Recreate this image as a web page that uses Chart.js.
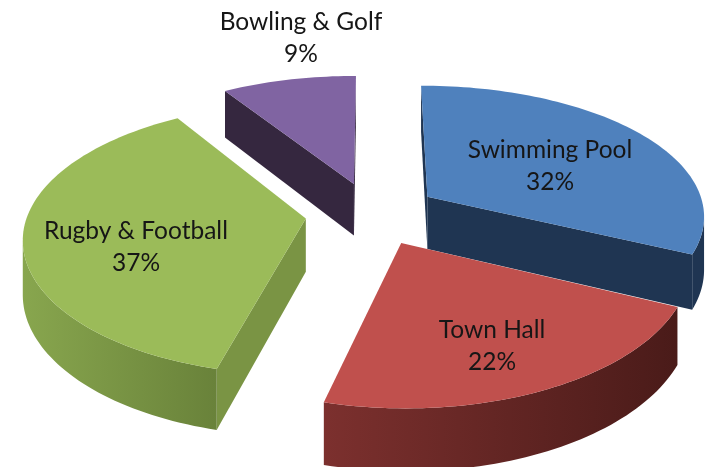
<!DOCTYPE html>
<html>
<head>
<meta charset="utf-8">
<style>html,body{margin:0;padding:0;background:#fff}canvas{display:block}</style>
<script src="https://cdn.jsdelivr.net/npm/chart.js@4"></script>
</head>
<body>
<canvas id="c" width="710" height="467"></canvas>
<script>
const categories = ['Swimming Pool', 'Town Hall', 'Rugby & Football', 'Bowling & Golf'];
const shares = [32, 22, 37, 9];
const topColors = ['#4F81BD', '#C0504D', '#9BBB59', '#8064A2'];
const faceColors = ['#1F3552', '#4E1F1C', '#7A9444', '#35273F'];
const rimLeftColors = ['#1F3552', '#7C302E', '#88A64E', '#35273F'];
const rimRightColors = ['#1F3552', '#4A1B19', '#69823A', '#35273F'];
const labelAnchors = [[550, 150], [492, 330], [136, 231], [301, 22]];

// Oblique view of the pie plane
const view = { cx: 372, cy: 213.5, radius: 278, squash: 0.475, persp: 0.13, depth: 53, foreshorten: 1.12 };
const paintOrder = [3, 0, 2, 1];

function project(wx, wy, lift) {
  const s = 1 / (1 - view.persp * wy / view.radius);
  return [view.cx + wx * s, view.cy + view.squash * wy * Math.pow(s, view.foreshorten) + lift * view.depth * s];
}
function fillPoly(ctx, pts, color) {
  ctx.beginPath();
  pts.forEach((p, i) => i ? ctx.lineTo(p[0], p[1]) : ctx.moveTo(p[0], p[1]));
  ctx.closePath();
  ctx.fillStyle = color;
  ctx.fill();
}
function facesViewer(q) {
  let a = 0;
  q.forEach((p, i) => { const n = q[(i + 1) % q.length]; a += p[0] * n[1] - n[0] * p[1]; });
  return a < 0;
}

const pie3d = {
  id: 'pie3d',
  beforeDatasetDraw() { return false; },
  afterDatasetsDraw(chart) {
    const ctx = chart.ctx;
    const arcs = chart.getDatasetMeta(0).data;
    paintOrder.forEach(i => {
      const el = arcs[i];
      const unit = view.radius / el.outerRadius;
      const a0 = el.startAngle + Math.PI / 2;
      const a1 = el.endAngle + Math.PI / 2;
      const mid = (a0 + a1) / 2;
      const off = el.options.offset * unit;
      const ox = off * Math.sin(mid), oy = -off * Math.cos(mid);
      const rim = [];
      const steps = Math.max(12, Math.round((a1 - a0) * 40));
      for (let k = 0; k <= steps; k++) {
        const t = a0 + (a1 - a0) * k / steps;
        rim.push([ox + view.radius * Math.sin(t), oy - view.radius * Math.cos(t)]);
      }
      const apex = [ox, oy];
      const up = p => project(p[0], p[1], 0);
      const down = p => project(p[0], p[1], 1);

      // Straight cut faces: only the ones turned towards the viewer
      const startFace = [up(apex), up(rim[0]), down(rim[0]), down(apex)];
      const endFace = [up(rim[steps]), up(apex), down(apex), down(rim[steps])];
      if (facesViewer(startFace)) fillPoly(ctx, startFace, faceColors[i]);
      if (facesViewer(endFace)) fillPoly(ctx, endFace, faceColors[i]);

      // Curved wall as one band, shaded left to right across its width
      const visible = rim.filter((p, k) => {
        const a = rim[Math.max(k - 1, 0)], b = rim[Math.min(k + 1, steps)];
        return facesViewer([up(a), up(b), down(b), down(a)]);
      });
      if (visible.length > 1) {
        const xs = visible.map(p => up(p)[0]);
        const grad = ctx.createLinearGradient(Math.min(...xs), 0, Math.max(...xs), 0);
        grad.addColorStop(0, rimLeftColors[i]);
        grad.addColorStop(1, rimRightColors[i]);
        fillPoly(ctx, [...visible.map(up), ...visible.slice().reverse().map(down)], grad);
      }

      // Top surface
      fillPoly(ctx, [up(apex), ...rim.map(up)], el.options.backgroundColor);
    });

    // Category and share labels
    ctx.fillStyle = '#161616';
    ctx.font = '24.5px Lato';
    ctx.textAlign = 'center';
    ctx.textBaseline = 'middle';
    categories.forEach((name, i) => {
      ctx.fillText(name, labelAnchors[i][0], labelAnchors[i][1]);
      ctx.fillText(shares[i] + '%', labelAnchors[i][0], labelAnchors[i][1] + 32);
    });
  }
};

new Chart(document.getElementById('c'), {
  type: 'pie',
  data: {
    labels: categories,
    datasets: [{ data: shares, backgroundColor: topColors, offset: 50, borderWidth: 0 }]
  },
  options: {
    responsive: false,
    animation: false,
    plugins: { legend: { display: false }, tooltip: { enabled: false } }
  },
  plugins: [pie3d]
});
</script>
</body>
</html>
